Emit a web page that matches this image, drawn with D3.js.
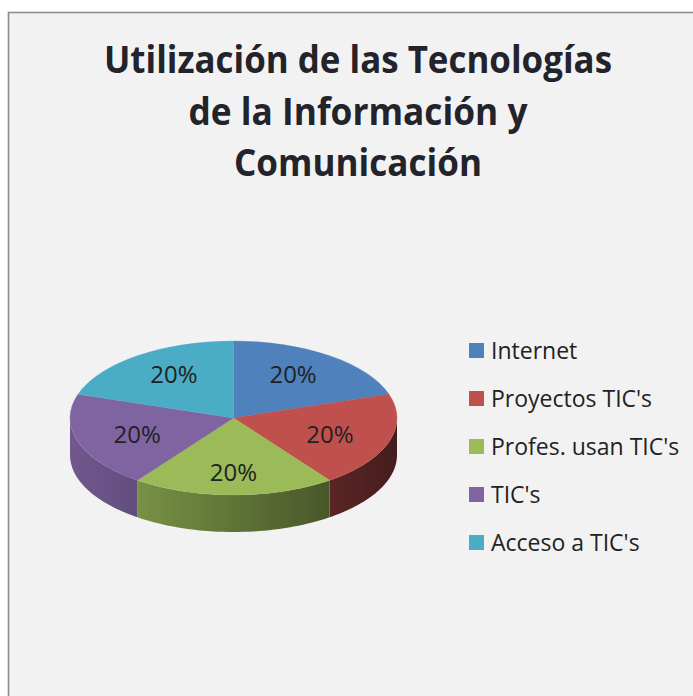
<!DOCTYPE html>
<html>
<head>
<meta charset="utf-8">
<script src="https://cdn.jsdelivr.net/npm/d3@7"></script>
<style>
  body { margin: 0; background: #fff; }
  svg { display: block; }
</style>
</head>
<body>
<svg id="chart" width="693" height="696"></svg>
<script>
"use strict";

var titleLines = ["Utilización de las Tecnologías", "de la Información y", "Comunicación"];
var categories = ["Internet", "Proyectos TIC's", "Profes. usan TIC's", "TIC's", "Acceso a TIC's"];
var values = [20, 20, 20, 20, 20];
var colors = ["#4f81bd", "#c0504d", "#9bbb59", "#8064a2", "#4bacc6"];

var svg = d3.select("#chart");
var defs = svg.append("defs");

// chart area, border shows on left/top only
svg.append("rect")
    .attr("x", 8.5).attr("y", 12.5)
    .attr("width", 720).attr("height", 720)
    .attr("fill", "#f2f2f2")
    .attr("stroke", "#8c8c8c")
    .attr("stroke-width", 1.6);

// title
var titleWidths = [508, 339, 248];
svg.append("g").selectAll("text")
    .data(titleLines)
    .join("text")
    .attr("x", 358)
    .attr("y", function (d, i) { return 73 + i * 51.7; })
    .attr("text-anchor", "middle")
    .attr("font-family", "'Open Sans', sans-serif")
    .attr("font-weight", "bold")
    .attr("font-size", 38)
    .attr("fill", "#23232b")
    .attr("textLength", function (d, i) { return titleWidths[i]; })
    .attr("lengthAdjust", "spacingAndGlyphs")
    .text(function (d) { return d; });

// pie geometry
var cx = 233.5, cy = 418, rx = 163.5, ry = 77, depth = 37;

var pie = d3.pie().sort(null).value(function (d) { return d; });
var arcs = pie(values);
var total = d3.sum(values);
var pct = d3.format(".0%");

function pt(a, dy) {
    return [cx + rx * Math.sin(a), cy - ry * Math.cos(a) + (dy || 0)];
}

// side gradients (lit from the left)
var shade = d3.scaleLinear().domain([cx - rx, cx + rx]).range([0.88, 0.36]);
colors.forEach(function (c, i) {
    var base = d3.rgb(c);
    var g = defs.append("linearGradient")
        .attr("id", "side" + i)
        .attr("gradientUnits", "userSpaceOnUse")
        .attr("x1", cx - rx).attr("x2", cx + rx)
        .attr("y1", 0).attr("y2", 0);
    [0, 0.5, 1].forEach(function (t) {
        var k = shade(cx - rx + t * 2 * rx);
        g.append("stop")
            .attr("offset", t)
            .attr("stop-color", d3.rgb(base.r * k, base.g * k, base.b * k).formatHex());
    });
});

// outer walls, only the front half is visible
var sides = svg.append("g");
arcs.forEach(function (d, i) {
    var a0 = Math.max(d.startAngle, Math.PI / 2);
    var a1 = Math.min(d.endAngle, Math.PI * 3 / 2);
    if (a1 <= a0) return;
    var steps = d3.range(0, 41).map(function (k) { return a0 + (a1 - a0) * k / 40; });
    var top = steps.map(function (a) { return pt(a, 0); });
    var bottom = steps.slice().reverse().map(function (a) { return pt(a, depth); });
    sides.append("path")
        .attr("d", d3.line()(top.concat(bottom)) + "Z")
        .attr("fill", "url(#side" + i + ")");
});

// top faces
var arc = d3.arc().innerRadius(0).outerRadius(rx);
svg.append("g")
    .attr("transform", "translate(" + cx + "," + cy + ") scale(1," + (ry / rx) + ")")
    .selectAll("path")
    .data(arcs)
    .join("path")
    .attr("d", arc)
    .attr("fill", function (d, i) { return colors[i]; })
    .attr("stroke", function (d, i) { return colors[i]; })
    .attr("stroke-width", 0.5);

// data labels
var labelArc = d3.arc().innerRadius(rx).outerRadius(rx);
var fx = 0.62, fy = 0.7;
svg.append("g").selectAll("text")
    .data(arcs)
    .join("text")
    .attr("x", function (d) { return cx + labelArc.centroid(d)[0] * fx; })
    .attr("y", function (d) { return cy + labelArc.centroid(d)[1] * fy * ry / rx; })
    .attr("dy", "0.36em")
    .attr("text-anchor", "middle")
    .attr("font-family", "'Open Sans', sans-serif")
    .attr("font-size", 24)
    .attr("fill", "#222")
    .text(function (d) { return pct(d.value / total); });

// legend
var legend = svg.append("g").selectAll("g")
    .data(categories)
    .join("g")
    .attr("transform", function (d, i) { return "translate(469," + (343 + i * 48) + ")"; });

legend.append("rect")
    .attr("width", 15).attr("height", 15)
    .attr("fill", function (d, i) { return colors[i]; });

legend.append("text")
    .attr("x", 22)
    .attr("y", 15.5)
    .attr("font-family", "'Open Sans', sans-serif")
    .attr("font-size", 23)
    .attr("fill", "#222")
    .text(function (d) { return d; });
</script>
</body>
</html>
